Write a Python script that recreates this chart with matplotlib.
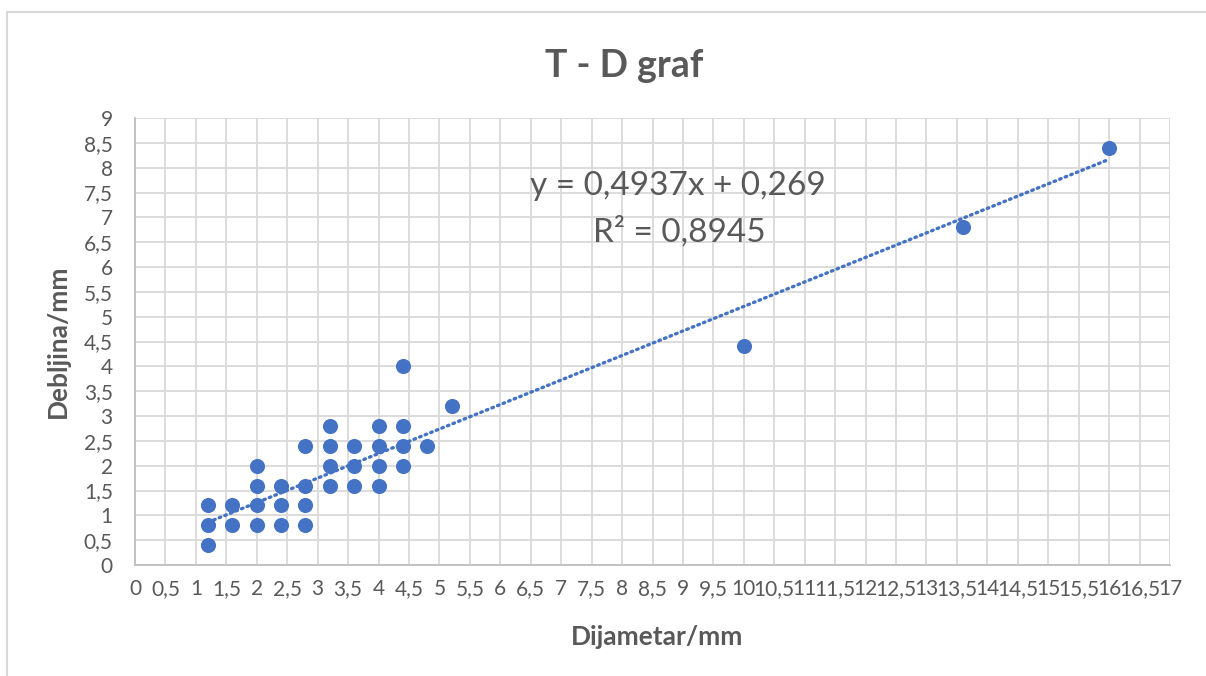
import numpy as np
import matplotlib.pyplot as plt
from matplotlib.patches import Rectangle

plt.rcParams['font.family'] = ['Lato', 'DejaVu Sans']

# measured points (diameter, thickness) in mm
diam = [1.2, 1.2, 1.2,
        1.6, 1.6,
        2.0, 2.0, 2.0, 2.0,
        2.4, 2.4, 2.4,
        2.8, 2.8, 2.8, 2.8,
        3.2, 3.2, 3.2, 3.2,
        3.6, 3.6, 3.6,
        4.0, 4.0, 4.0, 4.0,
        4.4, 4.4, 4.4, 4.4,
        4.8, 5.2, 10.0, 13.6, 16.0]
thick = [0.4, 0.8, 1.2,
         0.8, 1.2,
         0.8, 1.2, 1.6, 2.0,
         0.8, 1.2, 1.6,
         0.8, 1.2, 1.6, 2.4,
         1.6, 2.0, 2.4, 2.8,
         1.6, 2.0, 2.4,
         1.6, 2.0, 2.4, 2.8,
         2.0, 2.4, 2.8, 4.0,
         2.4, 3.2, 4.4, 6.8, 8.4]

slope = 0.4937
intercept = 0.269
r2 = 0.8945

blue = '#4472C4'
gray = '#595959'
W, H = 1206, 676

fig = plt.figure(figsize=(12.06, 6.76), dpi=100)
ax = fig.add_axes([135 / W, 1 - 565 / H, 1035 / W, 447 / H])

# chart border (right/bottom edges fall outside the picture)
fig.patches.append(Rectangle((7 / W, -0.05), 1.1, 1 - 12 / H + 0.05, transform=fig.transFigure,
                             fill=False, edgecolor='#d9d9d9', linewidth=1.5))

ax.scatter(diam, thick, s=118, color=blue, zorder=3, linewidths=0)

xs = np.array([min(diam), max(diam)])
ax.plot(xs, slope * xs + intercept, color=blue, linewidth=2.4,
        linestyle=(0, (0.5, 1.3)), dash_capstyle='round', zorder=2)

ax.set_xlim(0, 17)
ax.set_ylim(0, 9)
xt = np.arange(0, 17.01, 0.5)
yt = np.arange(0, 9.01, 0.5)
ax.set_xticks(xt)
ax.set_yticks(yt)
fmt = lambda v: ('%g' % v).replace('.', ',')
ax.set_xticklabels([fmt(v) for v in xt])
ax.set_yticklabels([fmt(v) for v in yt])
ax.tick_params(length=0, labelsize=15, colors=gray)
ax.tick_params(axis='x', pad=10)
ax.tick_params(axis='y', pad=16)

ax.grid(True, color='#d9d9d9', linewidth=1.3)
ax.set_axisbelow(True)
for s in ['top', 'right']:
    ax.spines[s].set_visible(False)
for s in ['left', 'bottom']:
    ax.spines[s].set_color('#bfbfbf')
    ax.spines[s].set_linewidth(1.3)

fig.text(657 / W, 1 - 645 / H, 'Dijametar/mm', ha='center', va='baseline',
         fontsize=19, fontweight='bold', color=gray)
fig.text(58 / W, 1 - 341 / H, 'Debljina/mm', ha='center', va='center', rotation=90,
         fontsize=19, fontweight='bold', color=gray)
fig.text(624 / W, 1 - 77 / H, 'T - D graf', ha='center', va='baseline', fontsize=27,
         fontweight='bold', color=gray)

fig.text(678 / W, 1 - 195 / H, 'y = 0,4937x + 0,269', ha='center', va='baseline',
         fontsize=24, color=gray)
fig.text(679 / W, 1 - 242 / H, 'R² = 0,8945', ha='center', va='baseline',
         fontsize=24, color=gray)

fig.savefig('out.png', dpi=100)
